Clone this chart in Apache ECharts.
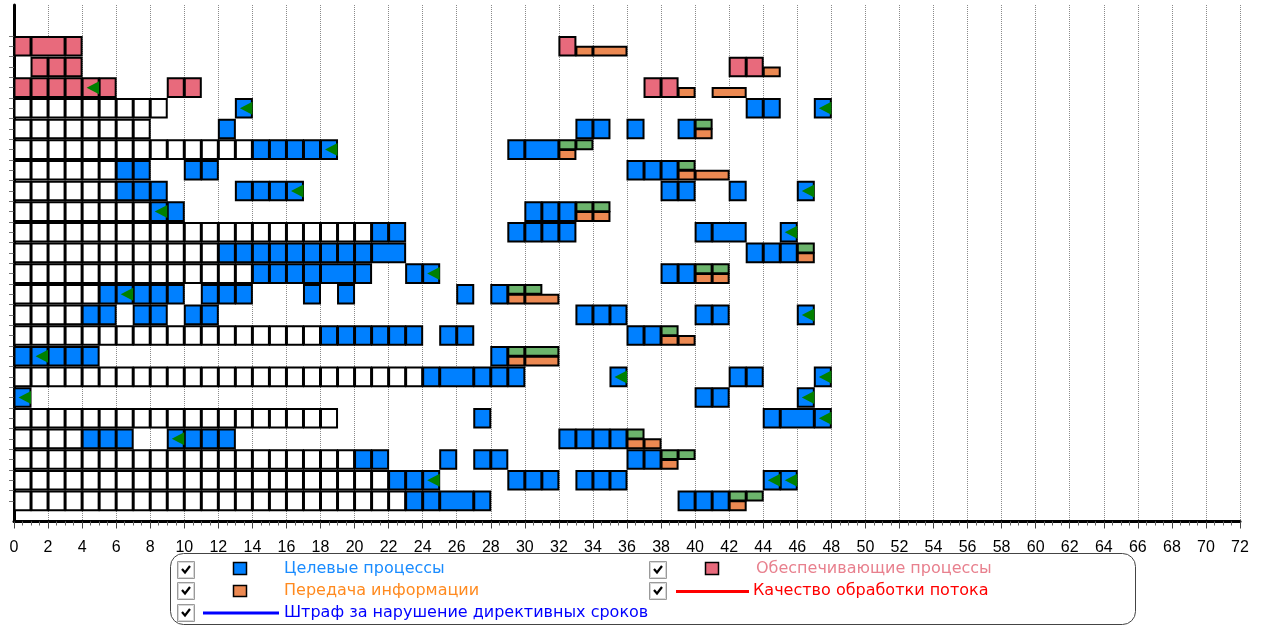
<!DOCTYPE html>
<html>
<head>
<meta charset="utf-8">
<title>Диаграмма загрузки</title>
<script src="https://cdn.jsdelivr.net/npm/echarts@6/dist/echarts.min.js"></script>
<style>
  html, body { margin: 0; padding: 0; background: #fff; }
  #chart { width: 1266px; height: 628px; }
</style>
</head>
<body>
<div id="chart"></div>
<script>
// Time scale
const timeMin = 0;
const timeMax = 72;
const timeStep = 2;
const laneCount = 23;

// Idle slots per lane: [lane, from, to], drawn one unit cell at a time
const idleRuns = [
  [4, 0, 9], [5, 0, 8], [6, 0, 14], [7, 0, 6], [8, 0, 6], [9, 0, 8],
  [10, 0, 21], [11, 0, 12], [12, 0, 14], [13, 0, 5], [14, 0, 4], [15, 0, 18],
  [17, 0, 24], [19, 0, 19], [20, 0, 4], [21, 0, 20], [22, 0, 22], [23, 0, 23]
];

// Target processes: [lane, start, end]
const targetBlocks = [
  [4, 13, 14], [4, 43, 44], [4, 44, 45], [4, 47, 48],
  [5, 12, 13], [5, 33, 34], [5, 34, 35], [5, 36, 37], [5, 39, 40],
  [6, 14, 15], [6, 15, 16], [6, 16, 17], [6, 17, 18], [6, 18, 19], [6, 29, 30], [6, 30, 32],
  [7, 6, 7], [7, 7, 8], [7, 10, 11], [7, 11, 12], [7, 36, 37], [7, 37, 38], [7, 38, 39],
  [8, 6, 7], [8, 7, 8], [8, 8, 9], [8, 13, 14], [8, 14, 15], [8, 15, 16], [8, 16, 17],
  [8, 38, 39], [8, 39, 40], [8, 42, 43], [8, 46, 47],
  [9, 8, 9], [9, 9, 10], [9, 30, 31], [9, 31, 32], [9, 32, 33],
  [10, 21, 22], [10, 22, 23], [10, 29, 30], [10, 30, 31], [10, 31, 32], [10, 32, 33],
  [10, 40, 41], [10, 41, 43], [10, 45, 46],
  [11, 12, 13], [11, 13, 14], [11, 14, 15], [11, 15, 16], [11, 16, 17], [11, 17, 18],
  [11, 18, 19], [11, 19, 20], [11, 20, 21], [11, 21, 23], [11, 43, 44], [11, 44, 45], [11, 45, 46],
  [12, 14, 15], [12, 15, 16], [12, 16, 17], [12, 17, 18], [12, 18, 20], [12, 20, 21],
  [12, 23, 24], [12, 24, 25], [12, 38, 39], [12, 39, 40],
  [13, 5, 6], [13, 6, 7], [13, 7, 8], [13, 8, 9], [13, 9, 10], [13, 11, 12], [13, 12, 13],
  [13, 13, 14], [13, 17, 18], [13, 19, 20], [13, 26, 27], [13, 28, 29],
  [14, 4, 5], [14, 5, 6], [14, 7, 8], [14, 8, 9], [14, 10, 11], [14, 11, 12],
  [14, 33, 34], [14, 34, 35], [14, 35, 36], [14, 40, 41], [14, 41, 42], [14, 46, 47],
  [15, 18, 19], [15, 19, 20], [15, 20, 21], [15, 21, 22], [15, 22, 23], [15, 23, 24],
  [15, 25, 26], [15, 26, 27], [15, 36, 37], [15, 37, 38],
  [16, 0, 1], [16, 1, 2], [16, 2, 3], [16, 3, 4], [16, 4, 5], [16, 28, 29],
  [17, 24, 25], [17, 25, 27], [17, 27, 28], [17, 28, 29], [17, 29, 30], [17, 35, 36],
  [17, 42, 43], [17, 43, 44], [17, 47, 48],
  [18, 0, 1], [18, 40, 41], [18, 41, 42], [18, 46, 47],
  [19, 27, 28], [19, 44, 45], [19, 45, 47], [19, 47, 48],
  [20, 4, 5], [20, 5, 6], [20, 6, 7], [20, 9, 10], [20, 10, 11], [20, 11, 12], [20, 12, 13],
  [20, 32, 33], [20, 33, 34], [20, 34, 35], [20, 35, 36],
  [21, 20, 21], [21, 21, 22], [21, 25, 26], [21, 27, 28], [21, 28, 29], [21, 36, 37], [21, 37, 38],
  [22, 22, 23], [22, 23, 24], [22, 24, 25], [22, 29, 30], [22, 30, 31], [22, 31, 32],
  [22, 33, 34], [22, 34, 35], [22, 35, 36], [22, 44, 45], [22, 45, 46],
  [23, 23, 24], [23, 24, 25], [23, 25, 27], [23, 27, 28], [23, 39, 40], [23, 40, 41], [23, 41, 42]
];

// Supporting processes: [lane, start, end]
const supportBlocks = [
  [1, 0, 1], [1, 1, 3], [1, 3, 4], [1, 32, 33],
  [2, 1, 2], [2, 2, 3], [2, 3, 4], [2, 42, 43], [2, 43, 44],
  [3, 0, 1], [3, 1, 2], [3, 2, 3], [3, 3, 4], [3, 4, 5], [3, 5, 6],
  [3, 9, 10], [3, 10, 11], [3, 37, 38], [3, 38, 39]
];

// Information transfer (lower half of the lane): [lane, start, end]
const transferBlocks = [
  [1, 33, 34], [1, 34, 36], [2, 44, 45], [3, 39, 40], [3, 41, 43], [5, 40, 41],
  [6, 32, 33], [7, 39, 40], [7, 40, 42], [9, 33, 34], [9, 34, 35], [11, 46, 47],
  [12, 40, 41], [12, 41, 42], [13, 29, 30], [13, 30, 32], [15, 38, 39], [15, 39, 40],
  [16, 29, 30], [16, 30, 32], [20, 36, 37], [20, 37, 38], [21, 38, 39], [23, 42, 43]
];

// Information reception (upper half of the lane): [lane, start, end]
const receiveBlocks = [
  [5, 40, 41], [6, 32, 33], [6, 33, 34], [7, 39, 40], [9, 33, 34], [9, 34, 35],
  [11, 46, 47], [12, 40, 41], [12, 41, 42], [13, 29, 30], [13, 30, 31], [15, 38, 39],
  [16, 29, 30], [16, 30, 32], [20, 36, 37], [21, 38, 39], [21, 39, 40],
  [23, 42, 43], [23, 43, 44]
];

// Directive deadlines: [lane, time]
const deadlineMarks = [
  [3, 5], [4, 14], [4, 48], [6, 19], [8, 17], [8, 47], [9, 9], [10, 46], [12, 25],
  [13, 7], [14, 47], [16, 2], [17, 36], [17, 48], [18, 1], [18, 47], [19, 48],
  [20, 10], [22, 25], [22, 45], [22, 46]
];

// ---- build series data ----
const idleCells = [];
idleRuns.forEach(([lane, from, to]) => {
  for (let t = from; t < to; t++) idleCells.push([t, t + 1, lane]);
});
const toItems = (list) => list.map(([lane, s, e]) => [s, e, lane]);

const laneTicks = [];
for (let i = 1; i <= laneCount * 2; i++) laneTicks.push(i / 2);

const HALF = 0.45;   // half height of a lane cell, in lane units
const SEAM = 0.02;

function cellRenderer(part, fill) {
  return function (params, api) {
    const s = api.value(0), e = api.value(1), lane = api.value(2);
    let top = lane - HALF, bottom = lane + HALF;
    if (part === 'upper') bottom = lane - SEAM;
    if (part === 'lower') top = lane + SEAM;
    const a = api.coord([s, top]);
    const b = api.coord([e, bottom]);
    return {
      type: 'rect',
      shape: {
        x: a[0] + 0.5,
        y: Math.min(a[1], b[1]),
        width: b[0] - a[0] - 1,
        height: Math.abs(b[1] - a[1])
      },
      style: { fill: fill, stroke: '#000', lineWidth: 2 }
    };
  };
}

function deadlineRenderer(params, api) {
  const p = api.coord([api.value(0), api.value(1)]);
  return {
    type: 'polygon',
    shape: { points: [[p[0] - 12.5, p[1]], [p[0], p[1] - 6.5], [p[0], p[1] + 6.5]] },
    style: { fill: '#008000' }
  };
}

const FONT = '"Liberation Sans", Arial, sans-serif';
const LEGEND_FONT = '16px "DejaVu Sans", "Liberation Sans", sans-serif';

// ---- legend drawing ----
function checkBox(x, y) {
  return [
    { type: 'rect', shape: { x: x + 0.5, y: y + 0.5, width: 17, height: 17 },
      style: { fill: '#fff', stroke: '#9a9a9a', lineWidth: 1 } },
    { type: 'rect', shape: { x: x + 1.5, y: y + 1.5, width: 15, height: 15 },
      style: { fill: '#fff', stroke: '#d8d8d8', lineWidth: 1 } },
    { type: 'polyline', shape: { points: [[x + 5, y + 8], [x + 8, y + 11.5], [x + 13, y + 5]] },
      style: { stroke: '#000', lineWidth: 2.2, fill: null } }
  ];
}
function legendText(x, y, text, color) {
  return { type: 'text', x: x, y: y,
    style: { text: text, fill: color, font: LEGEND_FONT, textVerticalAlign: 'middle' } };
}

const legendGraphics = [].concat(
  [{ type: 'rect', shape: { x: 170.5, y: 553.5, width: 965, height: 71, r: 13 },
     style: { fill: 'none', stroke: '#444', lineWidth: 1 } }],
  checkBox(177, 561), checkBox(177, 582), checkBox(177, 604),
  checkBox(649, 561), checkBox(649, 582),
  [
    { type: 'rect', shape: { x: 233.5, y: 562.5, width: 13, height: 12 },
      style: { fill: '#0080ff', stroke: '#000', lineWidth: 1.5 } },
    { type: 'rect', shape: { x: 233.5, y: 585.5, width: 13, height: 11 },
      style: { fill: '#ec8952', stroke: '#000', lineWidth: 1.5 } },
    { type: 'rect', shape: { x: 705.5, y: 562.5, width: 13, height: 12 },
      style: { fill: '#e86a7c', stroke: '#000', lineWidth: 1.5 } },
    { type: 'line', shape: { x1: 203, y1: 613, x2: 279, y2: 613 },
      style: { stroke: '#0000ff', lineWidth: 3 } },
    { type: 'line', shape: { x1: 676, y1: 591.5, x2: 749, y2: 591.5 },
      style: { stroke: '#ff0000', lineWidth: 3 } },
    legendText(284, 569, 'Целевые процессы', '#1a8cff'),
    legendText(284, 591, 'Передача информации', '#ff8a1f'),
    legendText(284, 613, 'Штраф за нарушение директивных сроков', '#0000ff'),
    legendText(756, 569, 'Обеспечивающие процессы', '#e8808e'),
    legendText(753, 591, 'Качество обработки потока', '#ff0000')
  ]
);

const chart = echarts.init(document.getElementById('chart'), null, { renderer: 'canvas' });
chart.setOption({
  animation: false,
  backgroundColor: '#fff',
  grid: { left: 14, right: 26, top: 5, bottom: 106.5 },
  xAxis: {
    type: 'value', min: timeMin, max: timeMax, interval: timeStep,
    axisLine: { show: true, onZero: false, lineStyle: { color: '#000', width: 3 } },
    axisTick: { show: true, length: 7, lineStyle: { color: '#444', width: 1 } },
    minorTick: { show: true, splitNumber: 4, length: 4, lineStyle: { color: '#666', width: 1 } },
    axisLabel: { color: '#000', fontSize: 16, fontFamily: FONT, margin: 18 },
    splitLine: { show: true, lineStyle: { color: '#8a8a8a', type: 'dotted', width: 1 } }
  },
  yAxis: {
    type: 'value', inverse: true, min: -1, max: laneCount + 1,
    axisLine: { show: true, onZero: false, lineStyle: { color: '#000', width: 3 } },
    axisTick: { show: true, length: 5, customValues: laneTicks, lineStyle: { color: '#777', width: 1 } },
    axisLabel: { show: false },
    splitLine: { show: false }
  },
  series: [
    { name: 'Свободные интервалы', type: 'custom', renderItem: cellRenderer('full', '#fff'),
      encode: { x: [0, 1], y: 2 }, data: idleCells, z: 2 },
    { name: 'Целевые процессы', type: 'custom', renderItem: cellRenderer('full', '#0080ff'),
      encode: { x: [0, 1], y: 2 }, data: toItems(targetBlocks), z: 3 },
    { name: 'Обеспечивающие процессы', type: 'custom', renderItem: cellRenderer('full', '#e86a7c'),
      encode: { x: [0, 1], y: 2 }, data: toItems(supportBlocks), z: 3 },
    { name: 'Передача информации', type: 'custom', renderItem: cellRenderer('lower', '#ec8952'),
      encode: { x: [0, 1], y: 2 }, data: toItems(transferBlocks), z: 3 },
    { name: 'Приём информации', type: 'custom', renderItem: cellRenderer('upper', '#6cb46c'),
      encode: { x: [0, 1], y: 2 }, data: toItems(receiveBlocks), z: 3 },
    { name: 'Директивные сроки', type: 'custom', renderItem: deadlineRenderer,
      encode: { x: 0, y: 1 }, data: deadlineMarks.map(([lane, t]) => [t, lane]), z: 4 }
  ],
  graphic: legendGraphics
});
</script>
</body>
</html>
